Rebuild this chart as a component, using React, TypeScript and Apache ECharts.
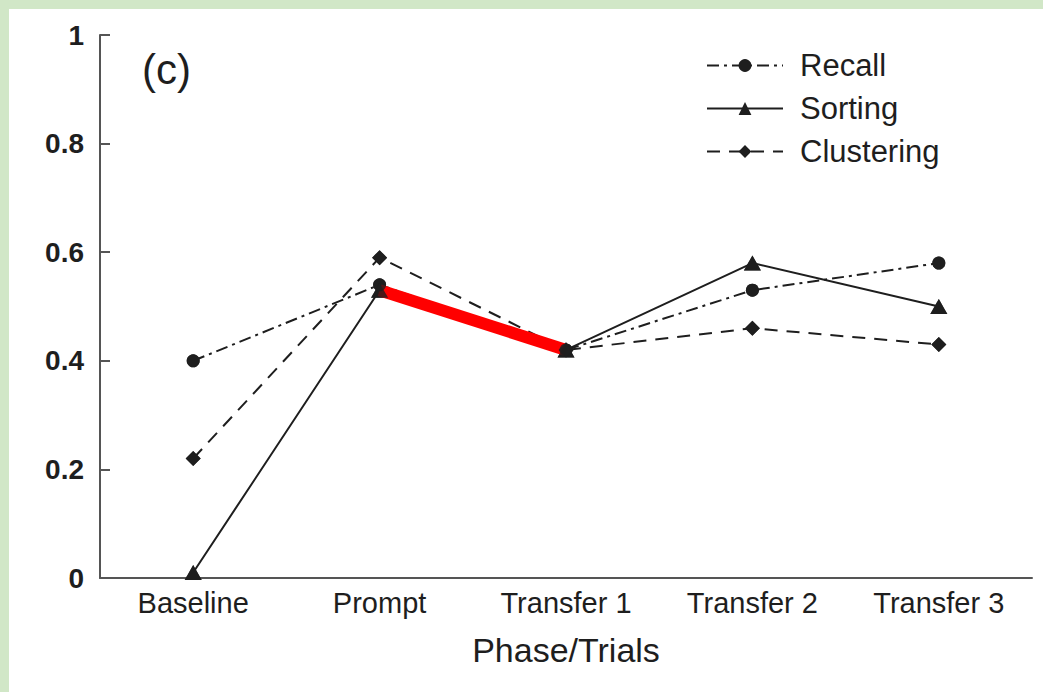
import React, { useEffect, useRef } from "react";
import * as echarts from "echarts";

// Phase / trial categories along the x axis
const phases = ["Baseline", "Prompt", "Transfer 1", "Transfer 2", "Transfer 3"];

// Proportion scores per measure
const recall = [0.40, 0.54, 0.42, 0.53, 0.58];
const sorting = [0.01, 0.53, 0.42, 0.58, 0.50];
const clustering = [0.22, 0.59, 0.42, 0.46, 0.43];

// Highlighted Sorting segment (Prompt -> Transfer 1)
const highlight = [null, 0.53, 0.42, null, null];

const FONT = "'Liberation Sans', Arial, Helvetica, sans-serif";
const INK = "#1e1e1e";

const measures = [
  { name: "Recall", data: recall, symbol: "circle", size: 13 as any, dash: [12, 5, 3, 5] as any },
  { name: "Sorting", data: sorting, symbol: "triangle", size: [17, 15] as any, dash: "solid" as any },
  { name: "Clustering", data: clustering, symbol: "diamond", size: 15 as any, dash: [13, 9] as any },
];

export default function App() {
  const ref = useRef<HTMLDivElement>(null);

  useEffect(() => {
    if (!ref.current) return;
    const chart = echarts.init(ref.current, null, { renderer: "svg" });

    // Lines sit under the highlight; markers are drawn again on top of it.
    const lineSeries = measures.map((m) => ({
      name: m.name,
      type: "line",
      data: m.data,
      z: 2,
      symbol: m.symbol,
      symbolSize: m.size,
      itemStyle: { color: INK },
      lineStyle: { color: INK, width: 2, type: m.dash },
    }));
    const markerSeries = measures.map((m) => ({
      name: m.name,
      type: "scatter",
      data: m.data,
      z: 4,
      symbol: m.symbol,
      symbolSize: m.size,
      itemStyle: { color: INK },
      silent: true,
    }));

    chart.setOption({
      animation: false,
      backgroundColor: "#ffffff",
      grid: { left: 91, top: 26, width: 932, height: 543, containLabel: false },
      legend: {
        orient: "vertical",
        left: 692,
        top: 36,
        itemWidth: 76,
        itemHeight: 16,
        itemGap: 12,
        data: ["Recall", "Sorting", "Clustering"],
        textStyle: {
          fontFamily: FONT,
          fontSize: 31,
          color: INK,
          lineHeight: 31,
          padding: [0, 0, 0, 12],
        },
      },
      xAxis: {
        type: "category",
        data: phases,
        boundaryGap: true,
        name: "Phase/Trials",
        nameLocation: "middle",
        nameGap: 55,
        nameTextStyle: { fontFamily: FONT, fontSize: 34, color: INK },
        axisLine: { lineStyle: { color: "#555", width: 2 } },
        axisTick: { show: false },
        axisLabel: { fontFamily: FONT, fontSize: 29, color: INK, margin: 10 },
        splitLine: { show: false },
      },
      yAxis: {
        type: "value",
        min: 0,
        max: 1,
        interval: 0.2,
        axisLine: { show: true, lineStyle: { color: "#555", width: 2 } },
        axisTick: { show: true, inside: true, length: 10, lineStyle: { color: "#555", width: 2 } },
        axisLabel: { fontFamily: FONT, fontSize: 28, fontWeight: "bold", color: INK, margin: 16 },
        splitLine: { show: false },
      },
      graphic: [
        {
          type: "text",
          left: 133,
          top: 39,
          style: { text: "(c)", font: `42px ${FONT}`, fill: INK },
        },
      ],
      series: [
        ...lineSeries,
        {
          name: "highlight",
          type: "line",
          data: highlight,
          z: 3,
          showSymbol: false,
          symbol: "none",
          lineStyle: { color: "#ff0000", width: 12, cap: "butt" },
          silent: true,
        },
        ...markerSeries,
      ],
    });

    return () => chart.dispose();
  }, []);

  return (
    <div
      style={{
        position: "fixed",
        left: 0,
        top: 0,
        width: 1043,
        height: 692,
        background: "#d1e7c7",
        overflow: "hidden",
      }}
    >
      <div
        ref={ref}
        style={{ position: "absolute", left: 9, top: 9, width: 1034, height: 683 }}
      />
    </div>
  );
}
